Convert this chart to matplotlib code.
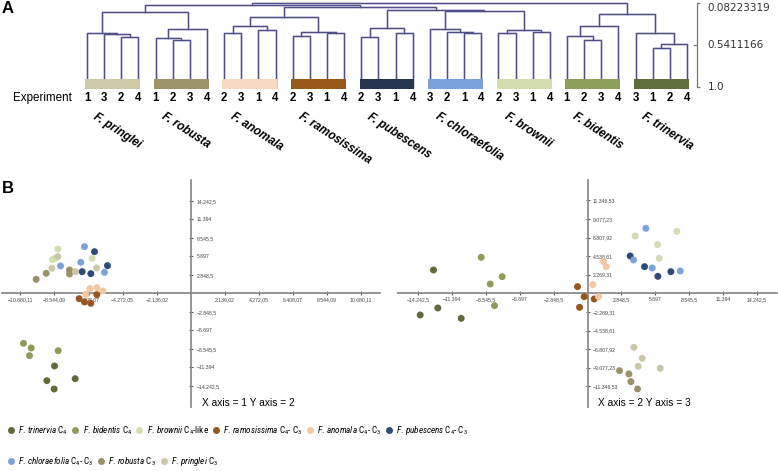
import matplotlib
matplotlib.use('Agg')
import matplotlib.pyplot as plt
from matplotlib import font_manager
from matplotlib.lines import Line2D

W, H = 778, 471

# ---- species, legend order ----
species = ['trinervia', 'bidentis', 'brownii', 'ramosissima', 'anomala',
           'pubescens', 'chloraefolia', 'robusta', 'pringlei']
pathway = ['C$_4$', 'C$_4$', 'C$_4$-like', 'C$_4$- C$_3$', 'C$_4$- C$_3$',
           'C$_4$- C$_3$', 'C$_4$- C$_3$', 'C$_3$', 'C$_3$']
colors = ['#5f6b3a', '#8d9d58', '#d3ddb3', '#98561c', '#f2c8a2',
          '#2f4a78', '#7ca2dc', '#9a9168', '#cbc8aa']

# ---- dendrogram (panel A) ----
dendro_species = ['pringlei', 'robusta', 'anomala', 'ramosissima', 'pubescens',
                  'chloraefolia', 'brownii', 'bidentis', 'trinervia']
bar_colors = ['#cdc9a9', '#9d9569', '#f8dac3', '#985819', '#25344f',
              '#7ba2da', '#d5deb1', '#8e9f59', '#5e6d3a']
experiment_order = [[1, 3, 2, 4], [1, 2, 3, 4], [2, 3, 1, 4], [2, 3, 1, 4], [2, 3, 1, 4],
                    [3, 2, 1, 4], [2, 3, 1, 4], [1, 2, 3, 4], [3, 1, 2, 4]]
# (left, right, height) with leaves = position inside the group
group_trees = [
    (0, (1, (2, 3, 0.450), 0.424), 0.413),
    ((0, (1, 2, 0.487), 0.468), 3, 0.370),
    ((0, 1, 0.407), (2, 3, 0.377), 0.334),
    ((0, 1, 0.440), (2, 3, 0.413), 0.402),
    ((0, 1, 0.457), (2, 3, 0.407), 0.359),
    (0, (1, (2, 3, 0.413), 0.396), 0.370),
    ((0, 1, 0.413), (2, 3, 0.402), 0.377),
    ((0, (1, 2, 0.487), 0.440), 3, 0.334),
    (0, ((1, 2, 0.577), 3, 0.530), 0.413),
]
# leaves = group index
species_tree = (((0, 1, 0.184), ((2, 3, 0.232), (4, (5, 6, 0.170), 0.164), 0.123), 0.107),
                (7, 8, 0.197), 0.08223319)
scale_ticks = [0.08223319, 0.5411166, 1.0]
scale_labels = ['0.08223319', '0.5411166', '1.0']

# ---- PCA scores (panel B) ----
left_x = [[-8542, -7247, -9022, -8563], [-10484, -10004, -10108, -8312],
          [-8333, -8667, -6183, -8500], [-6997, -6663, -6266, -5890],
          [-6329, -5890, -5514, -6579], [-6037, -6809, -6266, -5222],
          [-8166, -6663, -6892, -5410], [-9064, -9690, -7603, -7603],
          [-8333, -8709, -7227, -5911]]
left_y = [[-11183, -13134, -13442, -14724], [-7694, -8411, -9592, -8822],
          [6831, 5189, 5394, 5400], [-816, -1329, -1535, -200],
          [724, 878, 364, -149], [6420, 3341, 3033, 4265],
          [4214, 7190, 4778, 3238], [3084, 2160, 3598, 2982],
          [5651, 3854, 3341, 3906]]
right_x = [[-12933, -12569, -14053, -10609], [-8929, -7165, -8173, -7809],
           [4007, 7507, 5883, 6023], [-837, -277, 563, -669],
           [1347, 1571, 451, 927], [3587, 4791, 5911, 7003],
           [4903, 3867, 5435, 7787], [2691, 3475, 3643, 4203],
           [3895, 4595, 4259, 6107]]
right_y = [[2851, -1785, -2639, -3046], [4396, 2037, 1143, -1501],
           [6999, 7568, 5941, 4274], [817, -403, -687, -1704],
           [3867, 3257, 1061, -403], [4559, 3257, 2078, 2647],
           [7934, 4071, 3095, 2729], [-9431, -9837, -10773, -11667],
           [-6584, -7926, -8902, -9146]]

left_xticks = [-10680.11, -8544.09, -6408.07, -4272.05, -2136.02,
               2136.02, 4272.05, 6408.07, 8544.09, 10680.11]
left_yticks = [-14242.5, -11394, -8545.5, -5697, -2848.5,
               2848.5, 5697, 8545.5, 11394, 14242.5]
right_xticks = [-14242.5, -11394, -8545.5, -5697, -2848.5,
                2848.5, 5697, 8545.5, 11394, 14242.5]
right_yticks = [-11346.53, -9077.23, -6807.92, -4538.61, -2269.31,
                2269.31, 4538.61, 6807.92, 9077.23, 11346.53]


def has_font(name):
    try:
        font_manager.findfont(font_manager.FontProperties(family=name),
                              fallback_to_default=False)
        return True
    except ValueError:
        return False


# the legend in the reference uses a narrow sans; shrink when none is installed
narrow, leg_size = 'Liberation Sans', 5.15
for cand in ['Liberation Sans Narrow', 'Roboto Condensed', 'Open Sans Condensed']:
    if has_font(cand):
        narrow, leg_size = cand, 6.6
        break

plt.rcParams['font.family'] = ['Liberation Sans', 'DejaVu Sans']
plt.rcParams['mathtext.fontset'] = 'custom'
plt.rcParams['mathtext.rm'] = narrow
plt.rcParams['mathtext.it'] = narrow + ':italic'

fig = plt.figure(figsize=(W / 100, H / 100), dpi=100)


def frac_rect(x0, y0, x1, y1):
    return [x0 / W, 1 - y1 / H, (x1 - x0) / W, (y1 - y0) / H]


# ---------------- panel A ----------------
ax_d = fig.add_axes(frac_rect(78.43, 0, 696.9, 95))
ax_d.set_xlim(-0.5, 35.58)
ax_d.set_ylim(1.0874, 0.0494)
ax_d.patch.set_visible(False)
for s in ['top', 'left', 'bottom']:
    ax_d.spines[s].set_visible(False)
ax_d.set_xticks([])

line_kw = dict(color='#4f4f86', lw=0.9, solid_joinstyle='miter', zorder=2)
halo_kw = dict(color='#d2d2e4', lw=1.8, zorder=1)


def draw_node(node, leaves):
    if isinstance(node, int):
        return leaves[node]
    left, right, h = node
    xl, hl = draw_node(left, leaves)
    xr, hr = draw_node(right, leaves)
    ax_d.plot([xl, xl, xr, xr], [hl, h, h, hr], **halo_kw)
    ax_d.plot([xl, xl, xr, xr], [hl, h, h, hr], **line_kw)
    return (xl + xr) / 2, h


group_tops = []
for g, tree in enumerate(group_trees):
    leaves = [(4 * g + k, 1.0) for k in range(4)]
    group_tops.append(draw_node(tree, leaves))
draw_node(species_tree, group_tops)

centers = [4 * g + 1.5 for g in range(len(dendro_species))]
ax_d.bar(centers, 0.113, width=3.2, bottom=0.912, color=bar_colors, zorder=3)

for g, name in enumerate(dendro_species):
    for k, n in enumerate(experiment_order[g]):
        ax_d.text(4 * g + k, 1.115, str(n), ha='center', va='center',
                  fontsize=8.3, fontweight='bold')
    ax_d.text(4 * g + 0.6, 1.26, 'F. ' + name, rotation=-33, rotation_mode='anchor',
              ha='left', va='top', fontsize=8.5, fontweight='bold', style='italic')

# similarity scale on the right
ax_d.spines['right'].set_bounds(scale_ticks[0], scale_ticks[-1])
ax_d.spines['right'].set_color('#777777')
ax_d.spines['right'].set_linewidth(0.9)
ax_d.yaxis.tick_right()
ax_d.set_yticks([scale_ticks[0], scale_ticks[2]])
ax_d.set_yticks([scale_ticks[1]], minor=True)
ax_d.set_yticklabels([])
ax_d.set_yticklabels([], minor=True)
ax_d.tick_params(axis='y', which='major', direction='out', length=2.5, width=0.9, color='#777777')
ax_d.tick_params(axis='y', which='minor', direction='in', length=3, width=0.9, color='#777777')
for v, lab, va in zip(scale_ticks, scale_labels, ['top', 'center', 'center']):
    ax_d.text(36.22, v, lab, ha='left', va=va, fontsize=7.5, color='#333333',
              family='DejaVu Sans', clip_on=False)

fig.text(12.7 / W, 1 - 97.5 / H, 'Experiment', ha='left', va='center', fontsize=8.4)
fig.text(2 / W, 1 - 1 / H, 'A', ha='left', va='top', fontsize=12, fontweight='bold')
fig.text(2 / W, 1 - 181 / H, 'B', ha='left', va='top', fontsize=12, fontweight='bold')


# ---------------- panel B ----------------
def eu(v):
    s = f'{abs(v):,.2f}'.rstrip('0').rstrip('.')
    s = s.replace(',', ' ').replace('.', ',').replace(' ', '.')
    return ('\u2212' if v < 0 else '') + s


def pca_axes(rect, xlim, ylim, xticks, yticks, xs, ys, note):
    ax = fig.add_axes(rect)
    ax.set_xlim(-xlim, xlim)
    ax.set_ylim(-ylim, ylim)
    ax.patch.set_visible(False)
    for s in ['top', 'left']:
        ax.spines[s].set_visible(False)
    ax.spines['bottom'].set_position('zero')
    ax.spines['right'].set_position('zero')
    for s in ['bottom', 'right']:
        ax.spines[s].set_color('#8c8c8c')
        ax.spines[s].set_linewidth(1.3)
    ax.xaxis.set_ticks_position('bottom')
    ax.yaxis.set_ticks_position('right')
    ax.set_xticks(xticks)
    ax.set_xticklabels([eu(v) for v in xticks])
    ax.set_yticks(yticks)
    ax.set_yticklabels([eu(v) for v in yticks])
    ax.tick_params(direction='inout', length=3, width=0.8, color='#555555',
                   labelsize=3.7, labelcolor='#444444')
    ax.tick_params(axis='x', pad=1)
    ax.tick_params(axis='y', pad=2.5)
    handles = []
    for i in range(len(species)):
        handles.append(ax.scatter(xs[i], ys[i], s=25, color=colors[i],
                                  edgecolors='none', zorder=3))
    ax.text(0.5287, 0.018, note, transform=ax.transAxes, ha='left', va='center',
            fontsize=7.3)
    return ax, handles


ax1, handles = pca_axes(frac_rect(1.7, 180, 380, 406.7), 11850, 17450,
                        left_xticks, left_yticks, left_x, left_y, 'X axis = 1 Y axis = 2')
ax2, _ = pca_axes(frac_rect(398.3, 180, 776.7, 406.7), 15890, 13830,
                  right_xticks, right_yticks, right_x, right_y, 'X axis = 2 Y axis = 3')

# ---------------- legend ----------------
leg_handles = [Line2D([], [], ls='', marker='o', markersize=5.0, color=c, mec='none')
               for c in colors]
leg_labels = [rf'$\mathit{{F.}}\,\mathit{{{s}}}$ {p}' for s, p in zip(species, pathway)]
leg_kw = dict(frameon=False, borderaxespad=0, borderpad=0, handlelength=0.8,
              handletextpad=0.4, columnspacing=0.4,
              prop={'family': narrow, 'size': leg_size})
fig.legend(leg_handles[:6], leg_labels[:6], loc='center left',
           bbox_to_anchor=(7 / W, 1 - 430.7 / H), ncol=6, **leg_kw)
fig.legend(leg_handles[6:], leg_labels[6:], loc='center left',
           bbox_to_anchor=(7 / W, 1 - 461.7 / H), ncol=3, **leg_kw)

fig.savefig('out.png', dpi=100)
